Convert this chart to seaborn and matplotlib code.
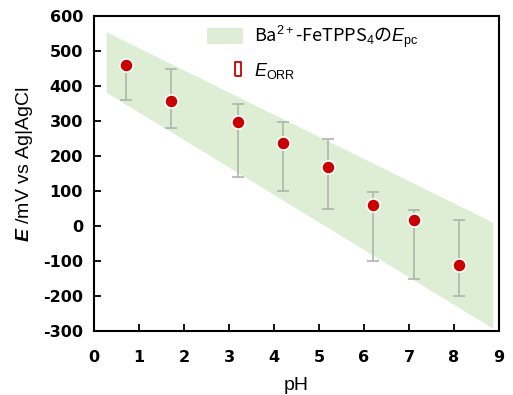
import seaborn as sns
import matplotlib.pyplot as plt
import pandas as pd
from matplotlib.patches import Patch
from matplotlib.lines import Line2D
from matplotlib.path import Path

# data
ph = [0.7, 1.7, 3.2, 4.2, 5.2, 6.2, 7.1, 8.1]
e_orr = [460, 358, 298, 238, 170, 60, 17, -112]
e_hi = [460, 450, 348, 297, 250, 97, 47, 16]
e_lo = [360, 281, 140, 100, 50, -100, -151, -201]

band_ph = [0.27, 8.86]
band_hi = [555, 11]
band_lo = [382, -292]

xticks = list(range(0, 10))
yticks = list(range(-300, 700, 100))

sns.set_style("ticks")
plt.rcParams["font.family"] = ["Liberation Sans", "Noto Sans CJK JP", "DejaVu Sans"]
plt.rcParams["text.color"] = "black"
plt.rcParams["axes.labelcolor"] = "black"
plt.rcParams["xtick.color"] = "black"
plt.rcParams["ytick.color"] = "black"
plt.rcParams["mathtext.fontset"] = "custom"
plt.rcParams["mathtext.rm"] = "Liberation Sans"
plt.rcParams["mathtext.it"] = "Liberation Sans:italic"
plt.rcParams["mathtext.bf"] = "Liberation Sans:bold"
plt.rcParams["mathtext.bfit"] = "Liberation Sans:italic:bold"

df = pd.DataFrame({"pH": ph, "E": e_orr})

fig = plt.figure(figsize=(5.13, 3.95), dpi=100)
ax = fig.add_axes([94 / 513, 1 - 331 / 395, 405 / 513, 315 / 395])

green = "#deeed5"
red = "#c80000"

ax.fill_between(band_ph, band_lo, band_hi, color=green, lw=0, zorder=1)

yerr = [[e - lo for e, lo in zip(e_orr, e_lo)], [hi - e for e, hi in zip(e_orr, e_hi)]]
ax.errorbar(ph, e_orr, yerr=yerr, fmt="none", ecolor="#adb5aa", elinewidth=1.2,
            capsize=4, capthick=1.2, zorder=2)
sns.scatterplot(data=df, x="pH", y="E", ax=ax, color=red, s=90,
                edgecolor="white", linewidth=1.2, zorder=3)

ax.set_xlim(0, 9)
ax.set_ylim(-300, 600)
ax.set_xticks(xticks)
ax.set_yticks(yticks)
ax.set_xticklabels([str(t) for t in xticks], fontfamily="DejaVu Sans",
                   fontweight="bold", fontsize=11.5)
ax.set_yticklabels([str(t) for t in yticks], fontfamily="DejaVu Sans",
                   fontweight="bold", fontsize=11.5)
ax.tick_params(axis="both", direction="in", length=5, width=1.3, color="black")
ax.tick_params(axis="x", pad=14)
ax.tick_params(axis="y", pad=8)
for sp in ax.spines.values():
    sp.set_color("black")
    sp.set_linewidth(1.5)

ax.set_xlabel("pH", fontsize=14, labelpad=8)
ax.set_ylabel(r"$\mathbfit{E}$ /mV vs Ag|AgCl", fontsize=14)
ax.yaxis.set_label_coords(-0.145, 0.53)

# narrow hollow red box, shifted to the right inside the handle box
rect = Path([(1.33, -1), (2.13, -1), (2.13, 1), (1.33, 1), (1.33, -1)])
handles = [
    Patch(facecolor=green, edgecolor="none"),
    Line2D([], [], ls="none", marker=rect, markersize=23,
           markerfacecolor="white", markeredgecolor=red, markeredgewidth=1.3),
]
labels = ["Ba$^{2+}$-FeTPPS$_4$の$E_\\mathrm{pc}$", "$E_\\mathrm{ORR}$"]
ax.legend(handles, labels, loc="upper left", bbox_to_anchor=(0.279, 0.975),
          frameon=False, prop={"family": "Noto Sans CJK JP", "size": 13},
          handlelength=2.0, handleheight=1.0, handletextpad=0.6,
          labelspacing=0.6, borderaxespad=0, borderpad=0)

fig.savefig("out.png", dpi=100)
